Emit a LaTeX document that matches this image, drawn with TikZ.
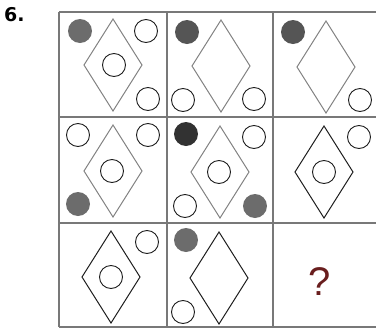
\documentclass[tikz,border=0pt]{standalone}
\usepackage{fontspec}
\setsansfont{Liberation Sans}
\newfontfamily\numfont{DejaVu Sans}
\usepackage{tikz}
\definecolor{gridgray}{RGB}{120, 120, 120}
\definecolor{rhombgray}{RGB}{130, 130, 130}
\definecolor{ink}{RGB}{30, 30, 30}
\definecolor{dotdark}{RGB}{50, 50, 50}
\definecolor{dotmid}{RGB}{85, 85, 85}
\definecolor{dotlight}{RGB}{108, 108, 108}
\definecolor{qmark}{RGB}{105, 30, 30}

\begin{document}
\begin{tikzpicture}[x=1pt, y=-1pt,
    gridline/.style={gridgray, line width=1.1pt},
    ring/.style={ink, line width=0.9pt},
    rhomb/.style={line width=1pt, line join=miter}]

  \pgfmathsetmacro{\rw}{29}
  \pgfmathsetmacro{\rh}{46}

  \useasboundingbox (0, 0) rectangle (376, 330);

  \node[font=\numfont\bfseries\fontsize{19}{19}\selectfont, anchor=west, inner sep=0pt] (num) at (4, 15) {6.};

  % grid
  \foreach \x in {59, 167, 273} {
    \draw[gridline] (\x, 12) -- (\x, 327);
  }
  \foreach \y in {12, 117, 223, 327} {
    \draw[gridline] (59, \y) -- (376, \y);
  }

  % rhombi
  \foreach \cx/\cy/\col in {113/65/rhombgray, 221/66/rhombgray, 326/67/rhombgray,
                            113/171/rhombgray, 220/172/rhombgray, 324/172/ink,
                            111/277/ink, 219/278/ink} {
    \draw[rhomb, \col] (\cx, \cy - \rh) -- (\cx + \rw, \cy) 
                    -- (\cx, \cy + \rh) -- (\cx - \rw, \cy) -- cycle;
  }

  % open circles
  \foreach \cx/\cy in {146/31, 114/65, 148/99, 183/100, 254/99, 360/100,
                       78/135, 148/135, 112/171, 254/137, 219/172, 185/206,
                       359/137, 324/172,
                       147/242, 111/277, 183/312} {
    \draw[ring] (\cx, \cy) circle (11.5);
  }

  % filled circles
  \foreach \cx/\cy/\col in {80/31/dotlight, 187/32/dotmid, 293/32/dotmid,
                            78/204/dotlight, 186/134/dotdark, 255/206/dotlight,
                            186/240/dotlight} {
    \fill[\col] (\cx, \cy) circle (12);
  }

  \node[qmark, font=\sffamily\fontsize{40}{40}\selectfont] (ask) at (320, 282) {?};

\end{tikzpicture}
\end{document}
